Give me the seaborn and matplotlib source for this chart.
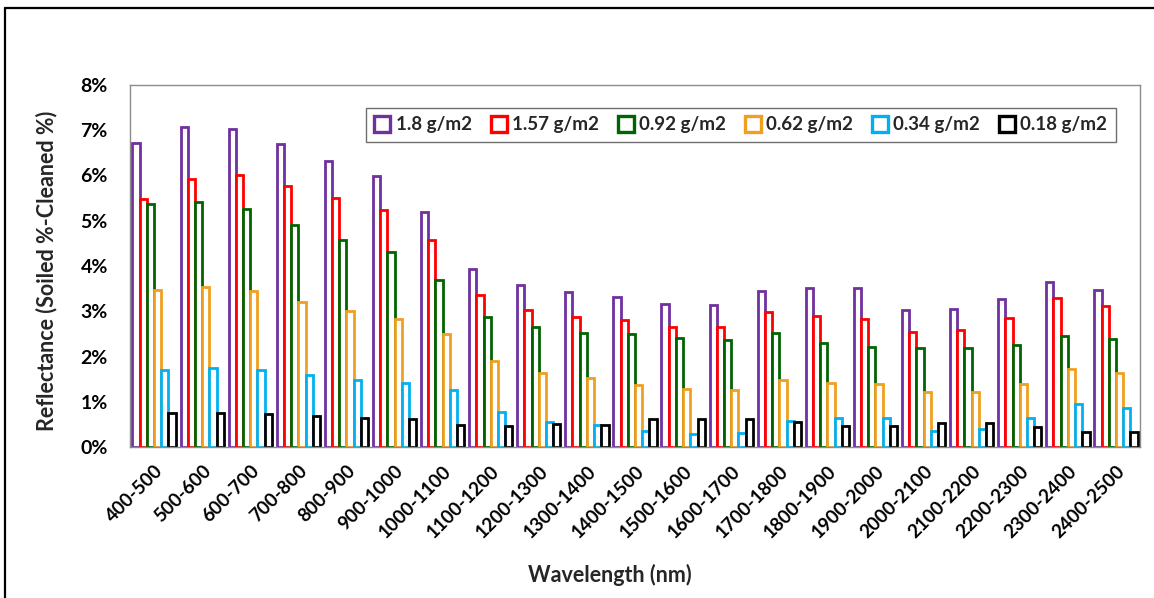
import numpy as np
import pandas as pd
import matplotlib
matplotlib.use("Agg")
import matplotlib.pyplot as plt
from matplotlib.lines import Line2D
from matplotlib.ticker import FuncFormatter
import seaborn as sns

# ---------------- data ----------------
wavelengths = ["400-500", "500-600", "600-700", "700-800", "800-900", "900-1000",
               "1000-1100", "1100-1200", "1200-1300", "1300-1400", "1400-1500",
               "1500-1600", "1600-1700", "1700-1800", "1800-1900", "1900-2000",
               "2000-2100", "2100-2200", "2200-2300", "2300-2400", "2400-2500"]

series_names = ["1.8 g/m2", "1.57 g/m2", "0.92 g/m2", "0.62 g/m2", "0.34 g/m2", "0.18 g/m2"]

s_1_8 = [6.71, 7.07, 7.02, 6.70, 6.32, 5.98, 5.19, 3.93, 3.58, 3.43, 3.31,
         3.16, 3.13, 3.45, 3.51, 3.51, 3.03, 3.06, 3.26, 3.65, 3.48]
s_1_57 = [5.49, 5.92, 6.01, 5.77, 5.50, 5.24, 4.57, 3.37, 3.03, 2.87, 2.81,
          2.65, 2.65, 2.98, 2.89, 2.82, 2.54, 2.59, 2.84, 3.29, 3.12]
s_0_92 = [5.36, 5.41, 5.27, 4.91, 4.58, 4.31, 3.69, 2.87, 2.65, 2.52, 2.50,
          2.40, 2.36, 2.51, 2.30, 2.22, 2.19, 2.19, 2.25, 2.46, 2.39]
s_0_62 = [3.48, 3.54, 3.44, 3.20, 3.01, 2.82, 2.50, 1.91, 1.63, 1.53, 1.38,
          1.29, 1.27, 1.49, 1.41, 1.39, 1.22, 1.22, 1.39, 1.73, 1.63]
s_0_34 = [1.70, 1.75, 1.71, 1.59, 1.49, 1.41, 1.27, 0.77, 0.56, 0.48, 0.36,
          0.29, 0.32, 0.58, 0.63, 0.65, 0.36, 0.40, 0.63, 0.96, 0.87]
s_0_18 = [0.76, 0.76, 0.74, 0.69, 0.63, 0.61, 0.49, 0.46, 0.50, 0.49, 0.61,
          0.61, 0.61, 0.56, 0.46, 0.46, 0.54, 0.52, 0.44, 0.34, 0.34]

all_series = [s_1_8, s_1_57, s_0_92, s_0_62, s_0_34, s_0_18]
colors = ["#7030A0", "#FF0000", "#006400", "#F0A020", "#00B0F0", "#000000"]

yticks = [0, 1, 2, 3, 4, 5, 6, 7, 8]

# ---------------- long table ----------------
rows = []
for name, vals in zip(series_names, all_series):
    for w, v in zip(wavelengths, vals):
        rows.append({"Wavelength": w, "Series": name, "Value": v})
df = pd.DataFrame(rows)

# ---------------- plot ----------------
sns.set_theme(style="white")
plt.rcParams["font.family"] = ["Lato", "DejaVu Sans"]
plt.rcParams["font.weight"] = "bold"

fig = plt.figure(figsize=(11.54, 5.98), dpi=100)
ax = fig.add_axes([130 / 1154, 1 - 447 / 598, 1010 / 1154, 362 / 598])

sns.barplot(data=df, x="Wavelength", y="Value", hue="Series",
            order=wavelengths, hue_order=series_names,
            palette=colors, fill=False, width=0.9, gap=0,
            linewidth=2.0, errorbar=None, legend=False, ax=ax)

for p in ax.patches:
    p.set_facecolor("white")

ax.set_ylim(0, 8)
ax.set_xlim(-0.5, len(wavelengths) - 0.5)
ax.set_yticks(yticks)
ax.yaxis.set_major_formatter(FuncFormatter(lambda v, pos: f"{int(round(v))}%"))

for s in ax.spines.values():
    s.set_visible(True)
    s.set_color("#8c8c8c")
    s.set_linewidth(1.0)

ax.tick_params(axis="both", length=0, colors="black")
ax.tick_params(axis="y", labelsize=14, pad=16)
ax.tick_params(axis="x", labelsize=13.5, pad=11)
for lbl in ax.get_xticklabels():
    lbl.set_rotation(45)
    lbl.set_ha("right")
    lbl.set_rotation_mode("anchor")
    lbl.set_fontweight("bold")
for lbl in ax.get_yticklabels():
    lbl.set_fontweight("bold")

ax.set_xlabel("Wavelength (nm)", fontsize=15.5, fontweight="bold")
ax.set_ylabel("Reflectance (Soiled %-Cleaned %)", fontsize=15.5, fontweight="bold")
ax.xaxis.set_label_coords(0.475, -0.322)
ax.yaxis.set_label_coords(-0.072, 0.486)

handles = [Line2D([], [], marker="s", linestyle="", markersize=12,
                  markerfacecolor="white", markeredgecolor=c, markeredgewidth=2.4)
           for c in colors]
leg = ax.legend(handles, series_names, loc="upper right",
                bbox_to_anchor=(0.976, 0.9365), borderaxespad=0,
                ncol=6, frameon=True, fancybox=False, framealpha=1,
                edgecolor="#6e6e6e", prop={"weight": "bold", "size": 13.5},
                handlelength=0.9, handletextpad=0.25, columnspacing=1.0,
                borderpad=0.45)
leg.get_frame().set_linewidth(1.0)

# outer figure frame (top and left edges)
fig.add_artist(Line2D([5 / 1154, 1.0], [1 - 8 / 598, 1 - 8 / 598],
                      transform=fig.transFigure, color="black", linewidth=1.6))
fig.add_artist(Line2D([5 / 1154, 5 / 1154], [0, 1 - 8 / 598],
                      transform=fig.transFigure, color="black", linewidth=1.6))

fig.savefig("out.png", dpi=100)
